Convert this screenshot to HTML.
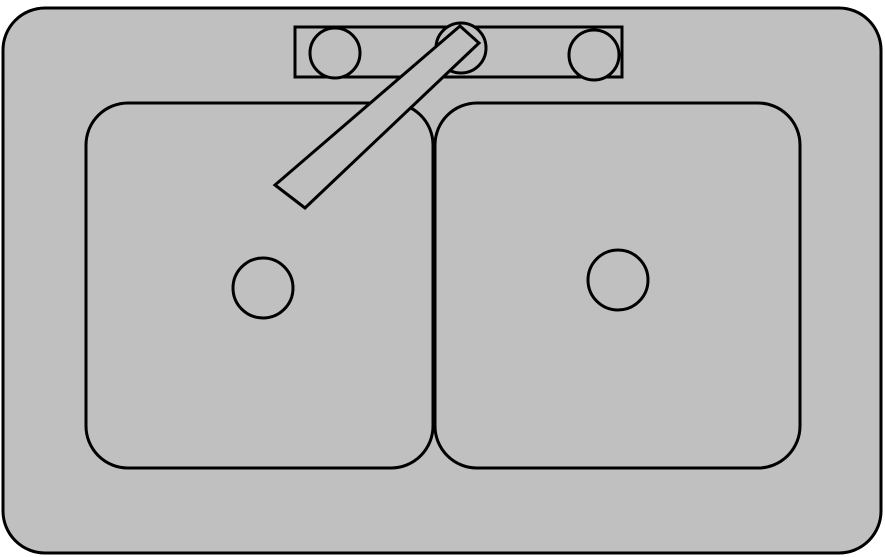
<!DOCTYPE html>
<html><head><meta charset="utf-8"><style>html,body{margin:0;padding:0;background:#fff}svg{display:block}</style></head>
<body>
<svg width="885" height="557" viewBox="0 0 885 557" xmlns="http://www.w3.org/2000/svg">
  <rect x="3" y="8" width="878" height="545" rx="42" ry="42" fill="#c0c0c0" stroke="#000" stroke-width="3"/>
  <rect x="86" y="103" width="347" height="365" rx="42" ry="42" fill="#c0c0c0" stroke="#000" stroke-width="3"/>
  <rect x="435" y="103" width="365" height="365" rx="42" ry="42" fill="#c0c0c0" stroke="#000" stroke-width="3"/>
  <rect x="295" y="27" width="327" height="50" fill="#c0c0c0" stroke="#000" stroke-width="3"/>
  <circle cx="335" cy="53" r="25" fill="#c0c0c0" stroke="#000" stroke-width="3"/>
  <circle cx="461" cy="48" r="25" fill="#c0c0c0" stroke="#000" stroke-width="3"/>
  <circle cx="594" cy="55" r="25" fill="#c0c0c0" stroke="#000" stroke-width="3"/>
  <polygon points="275,185 305,208 479,43 460,26" fill="#c0c0c0" stroke="#000" stroke-width="3"/>
  <circle cx="263" cy="288" r="30" fill="#c0c0c0" stroke="#000" stroke-width="3"/>
  <circle cx="618" cy="280" r="30" fill="#c0c0c0" stroke="#000" stroke-width="3"/>
</svg>
</body></html>
